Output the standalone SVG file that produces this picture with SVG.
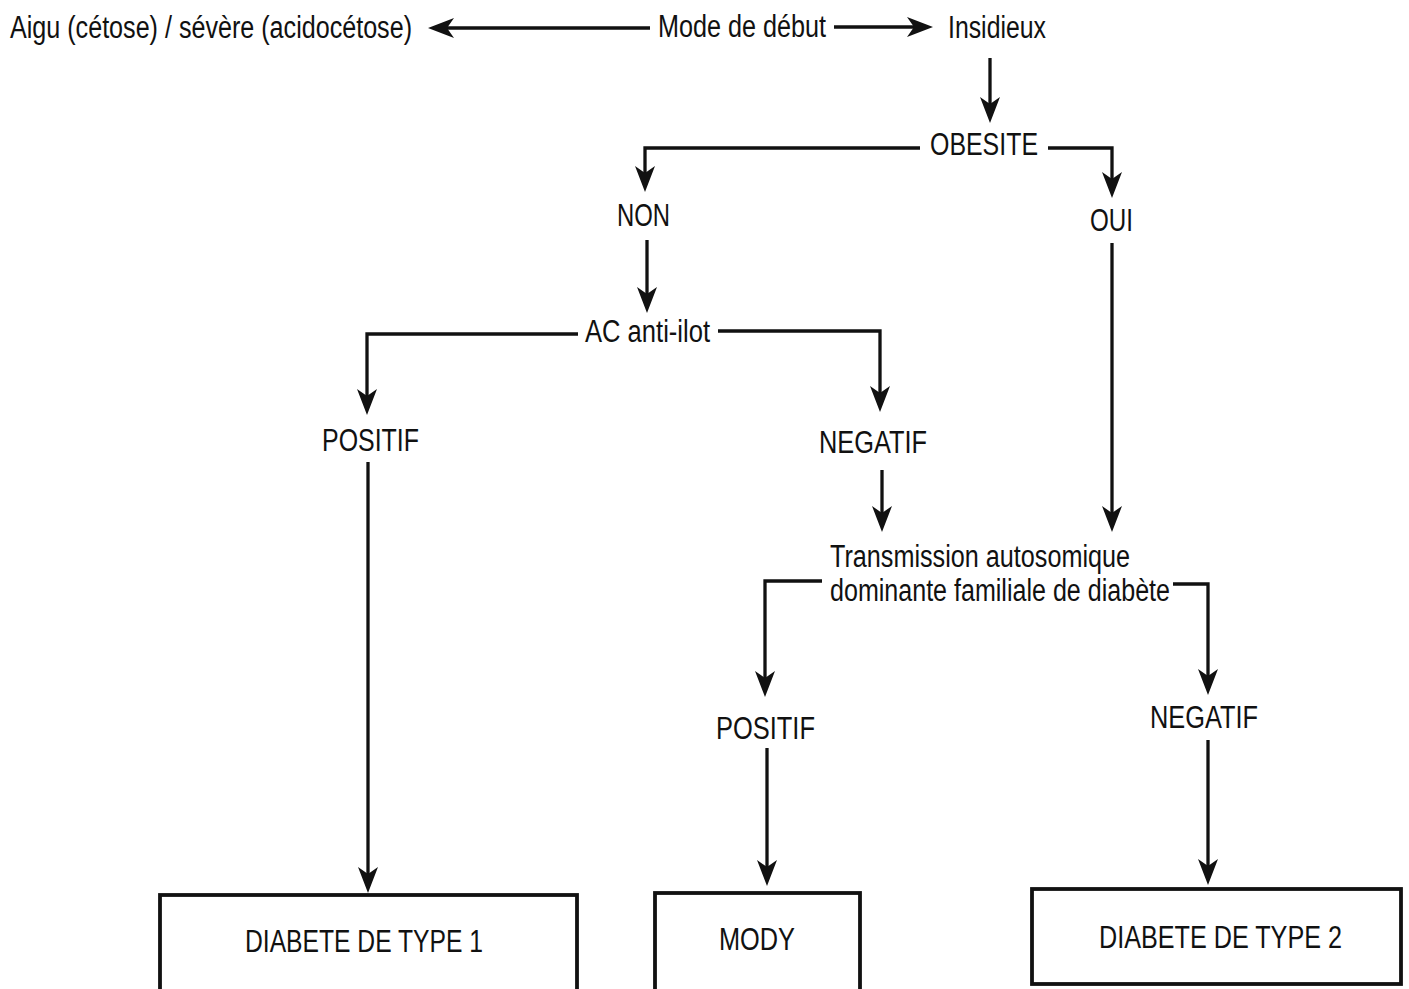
<svg xmlns="http://www.w3.org/2000/svg" width="1409" height="989" viewBox="0 0 1409 989">
<defs>
<marker id="ah" viewBox="0 0 26 20" refX="16" refY="10" markerWidth="26" markerHeight="20" markerUnits="userSpaceOnUse" orient="auto">
<path d="M0,0 L26,10 L0,20 L7,10 Z" fill="#111"/>
</marker>
</defs>
<style>
text{font-family:"Liberation Sans",Arial,sans-serif;font-size:31px;fill:#111}
.c line,.c path{stroke:#111;stroke-width:3.3;fill:none}
.a{marker-end:url(#ah)}
.box{fill:#fff;stroke:#111;stroke-width:3.8}
</style>
<rect width="1409" height="989" fill="#fff"/>
<g class="c" id="connectors">
<path class="a" d="M650,28 L438,28"/>
<path class="a" d="M834,27 L923,27"/>
<path class="a" d="M990,58 L990,113"/>
<path class="a" d="M920,148 L645,148 L645,182"/>
<path class="a" d="M1048,148 L1112,148 L1112,188"/>
<path class="a" d="M647,240 L647,303"/>
<path class="a" d="M578,334 L367,334 L367,405"/>
<path class="a" d="M718,331 L880,331 L880,402"/>
<path class="a" d="M882,470 L882,522"/>
<path class="a" d="M1112,243 L1112,522"/>
<path class="a" d="M822,581 L765,581 L765,687"/>
<path class="a" d="M1173,584 L1208,584 L1208,685"/>
<path class="a" d="M368,462 L368,883"/>
<path class="a" d="M767,748 L767,876"/>
<path class="a" d="M1208,740 L1208,875"/>
</g>
<g id="n-aigu"><text x="10" y="38" textLength="402" lengthAdjust="spacingAndGlyphs">Aigu (cétose) / sévère (acidocétose)</text></g>
<g id="n-mode"><text x="658" y="37" textLength="168" lengthAdjust="spacingAndGlyphs">Mode de début</text></g>
<g id="n-insidieux"><text x="948" y="38" textLength="98" lengthAdjust="spacingAndGlyphs">Insidieux</text></g>
<g id="n-obesite"><text x="930" y="155" textLength="108" lengthAdjust="spacingAndGlyphs">OBESITE</text></g>
<g id="n-non"><text x="617" y="226" textLength="53" lengthAdjust="spacingAndGlyphs">NON</text></g>
<g id="n-oui"><text x="1090" y="231" textLength="43" lengthAdjust="spacingAndGlyphs">OUI</text></g>
<g id="n-ac"><text x="585" y="342" textLength="125" lengthAdjust="spacingAndGlyphs">AC anti-ilot</text></g>
<g id="n-pos1"><text x="322" y="451" textLength="97" lengthAdjust="spacingAndGlyphs">POSITIF</text></g>
<g id="n-neg1"><text x="819" y="453" textLength="108" lengthAdjust="spacingAndGlyphs">NEGATIF</text></g>
<g id="n-trans">
<text x="830" y="567" textLength="300" lengthAdjust="spacingAndGlyphs">Transmission autosomique</text>
<text x="830" y="601" textLength="340" lengthAdjust="spacingAndGlyphs">dominante familiale de diabète</text>
</g>
<g id="n-pos2"><text x="716" y="739" textLength="99" lengthAdjust="spacingAndGlyphs">POSITIF</text></g>
<g id="n-neg2"><text x="1150" y="728" textLength="108" lengthAdjust="spacingAndGlyphs">NEGATIF</text></g>
<g id="n-t1"><rect class="box" x="160" y="895" width="417" height="100"/><text x="245" y="952" textLength="238" lengthAdjust="spacingAndGlyphs">DIABETE DE TYPE 1</text></g>
<g id="n-mody"><rect class="box" x="655" y="893" width="205" height="100"/><text x="719" y="950" textLength="76" lengthAdjust="spacingAndGlyphs">MODY</text></g>
<g id="n-t2"><rect class="box" x="1032" y="889" width="369" height="95"/><text x="1099" y="948" textLength="243" lengthAdjust="spacingAndGlyphs">DIABETE DE TYPE 2</text></g>
</svg>
